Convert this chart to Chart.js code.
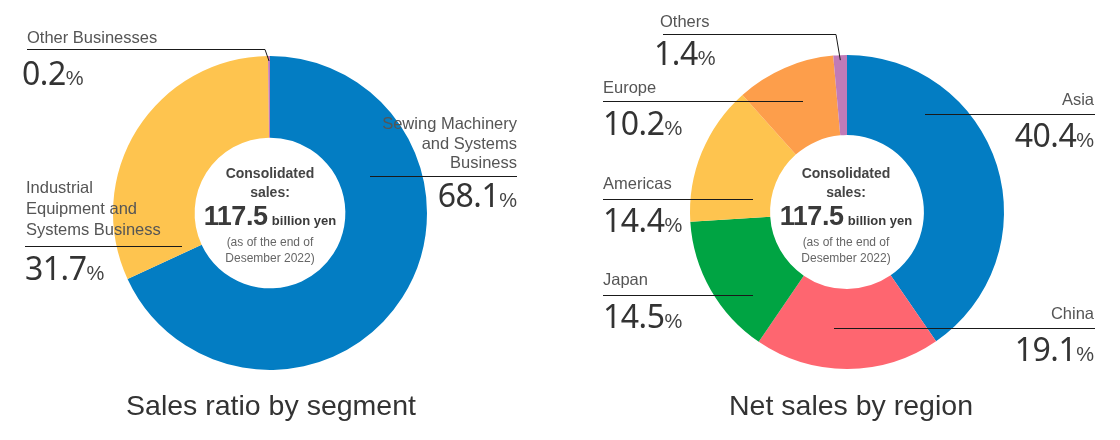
<!DOCTYPE html>
<html>
<head>
<meta charset="utf-8">
<script src="https://cdn.jsdelivr.net/npm/chart.js@4.4.1/dist/chart.umd.min.js"></script>
<style>
html, body { margin: 0; padding: 0; background: #fff; }
#wrap { position: relative; width: 1120px; height: 440px; overflow: hidden; }
.box { position: absolute; top: 0; width: 560px; height: 440px; }
.t { position: absolute; white-space: nowrap; font-family: "Liberation Sans", Arial, sans-serif; color: #555; }
.name { font-size: 16.5px; }
.num { font-family: "Noto Sans", sans-serif; font-size: 32px; color: #333; letter-spacing: -0.5px; }
.pc { font-size: 20px; color: #444; }
.c1 { font-size: 14px; font-weight: bold; color: #444; }
.big { font-size: 27px; font-weight: bold; color: #3a3a3a; letter-spacing: -0.5px; }
.by { font-size: 13px; font-weight: bold; color: #3a3a3a; }
.small { font-size: 12px; color: #666; }
.title { font-size: 28.5px; color: #333; }
</style>
</head>
<body>
<div id="wrap">
  <div class="box" style="left:0"><canvas id="segmentChart" width="560" height="440"></canvas></div>
  <div class="box" style="left:560px"><canvas id="regionChart" width="560" height="440"></canvas></div>
</div>
<script>
// data
var segmentLabels = ['Sewing Machinery and Systems Business', 'Industrial Equipment and Systems Business', 'Other Businesses'];
var segmentNameLines = [['Sewing Machinery', 'and Systems', 'Business'], ['Industrial', 'Equipment and', 'Systems Business'], ['Other Businesses']];
var segmentValues = [68.1, 31.7, 0.2];
var segmentColors = ['#037dc3', '#fec44f', '#c27ab8'];

var regionLabels = ['Asia', 'China', 'Japan', 'Americas', 'Europe', 'Others'];
var regionValues = [40.4, 19.1, 14.5, 14.4, 10.2, 1.4];
var regionColors = ['#037dc3', '#fe6670', '#00a443', '#fec44f', '#fd9e4b', '#c17bb8'];

var consolidatedSales = 117.5;
var salesDate = 'Desember 2022';

// label placement (page coords): name centre y, line y + x range, percent centre y
var segmentLayout = [
    { align: 'right', x: 517, nameY: 124, lh: 19.5, lineY: 176, x1: 370, x2: 517, pctX: 517, pctY: 195 },
    { align: 'left', x: 26, nameY: 187, lh: 21, lineY: 246, x1: 25, x2: 182, pctX: 25, pctY: 268 },
    { align: 'left', x: 27, nameY: 37, lh: 20, lineY: 49, x1: 27, x2: 265, pctX: 22, pctY: 73, toArc: true }
];
var regionLayout = [
    { align: 'right', x: 1094, nameY: 99, lh: 20, lineY: 114, x1: 925, x2: 1095, pctX: 1094, pctY: 135 },
    { align: 'right', x: 1094, nameY: 313, lh: 20, lineY: 328, x1: 834, x2: 1095, pctX: 1094, pctY: 349 },
    { align: 'left', x: 603, nameY: 279, lh: 20, lineY: 295, x1: 603, x2: 753, pctX: 603, pctY: 316 },
    { align: 'left', x: 603, nameY: 183, lh: 20, lineY: 199, x1: 603, x2: 753, pctX: 603, pctY: 220 },
    { align: 'left', x: 603, nameY: 87, lh: 20, lineY: 101, x1: 603, x2: 803, pctX: 603, pctY: 123 },
    { align: 'left', x: 660, nameY: 21, lh: 20, lineY: 34, x1: 663, x2: 836, pctX: 654, pctY: 53, toArc: true }
];

var wrap = document.getElementById('wrap');

function addText(html, x, cy, align, cls, lh) {
    var d = document.createElement('div');
    d.className = 't ' + cls;
    d.innerHTML = html;
    d.style.lineHeight = lh + 'px';
    d.style.top = (cy - lh / 2) + 'px';
    if (align === 'left') {
        d.style.left = x + 'px';
    } else if (align === 'right') {
        d.style.right = (1120 - x) + 'px';
        d.style.textAlign = 'right';
    } else {
        d.style.left = (x - 200) + 'px';
        d.style.width = '400px';
        d.style.textAlign = 'center';
    }
    wrap.appendChild(d);
}

function addLabels(nameLines, values, layout) {
    layout.forEach(function (l, i) {
        addText(nameLines[i].join('<br>'), l.x, l.nameY, l.align, 'name', l.lh);
        addText('<span class="num">' + values[i].toFixed(1) + '</span><span class="pc">%</span>', l.pctX, l.pctY, l.align, '', 34);
    });
}

function addCenter(cx) {
    addText('Consolidated', cx, 173, 'center', 'c1', 18);
    addText('sales:', cx, 192, 'center', 'c1', 18);
    addText('<span class="big">' + consolidatedSales.toFixed(1) + '</span> <span class="by">billion yen</span>', cx, 216, 'center', '', 30);
    addText('(as of the end of', cx, 242, 'center', 'small', 16);
    addText(salesDate + ')', cx, 258, 'center', 'small', 16);
}

// leader lines, drawn over the slices
var leaderPlugin = {
    id: 'leaders',
    afterDatasetsDraw: function (chart, args, opts) {
        var ctx = chart.ctx;
        var arcs = chart.getDatasetMeta(0).data;
        ctx.save();
        ctx.strokeStyle = '#1a1a1a';
        ctx.lineWidth = 1;
        opts.layout.forEach(function (l, i) {
            var y = l.lineY + 0.5;
            ctx.beginPath();
            ctx.moveTo(l.x1 - opts.offsetX, y);
            ctx.lineTo(l.x2 - opts.offsetX, y);
            if (l.toArc) {
                var a = arcs[i];
                var mid = (a.startAngle + a.endAngle) / 2;
                var r = a.outerRadius - 5;
                ctx.lineTo(a.x + r * Math.cos(mid), a.y + r * Math.sin(mid));
            }
            ctx.stroke();
        });
        ctx.restore();
    }
};

function makeChart(id, labels, values, colors, cutout, padding, layout, offsetX) {
    return new Chart(document.getElementById(id), {
        type: 'doughnut',
        data: {
            labels: labels,
            datasets: [{
                data: values,
                backgroundColor: colors,
                borderWidth: 0,
                hoverOffset: 0
            }]
        },
        options: {
            responsive: false,
            animation: false,
            events: [],
            cutout: cutout,
            layout: { padding: padding },
            plugins: {
                legend: { display: false },
                tooltip: { enabled: false },
                leaders: { layout: layout, offsetX: offsetX }
            }
        },
        plugins: [leaderPlugin]
    });
}

var segmentChart = makeChart('segmentChart', segmentLabels, segmentValues, segmentColors, '48%',
    { left: 113, top: 56, right: 133, bottom: 70 }, segmentLayout, 0);
var regionChart = makeChart('regionChart', regionLabels, regionValues, regionColors, '49%',
    { left: 130, top: 55, right: 116, bottom: 71 }, regionLayout, 560);

addLabels(segmentNameLines, segmentValues, segmentLayout);
addLabels(regionLabels.map(function (s) { return [s]; }), regionValues, regionLayout);
addCenter(270);
addCenter(846);
addText('Sales ratio by segment', 271, 405, 'center', 'title', 32);
addText('Net sales by region', 851, 405, 'center', 'title', 32);
</script>
</body>
</html>
